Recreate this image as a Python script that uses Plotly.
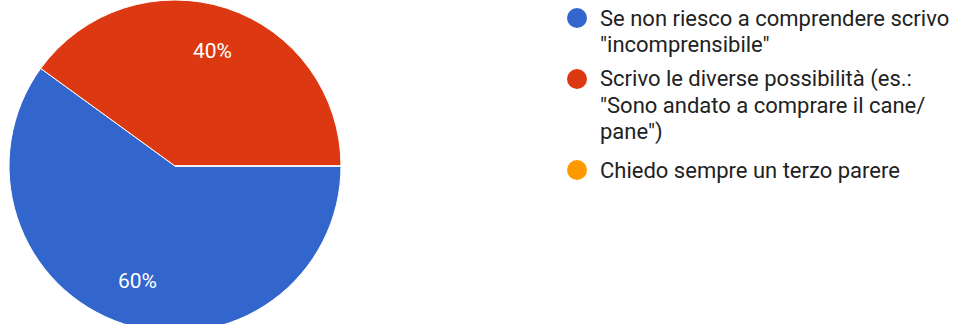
import math
import plotly.graph_objects as go

# Survey answers and their share of responses
labels = [
    'Se non riesco a comprendere scrivo "incomprensibile"',
    'Scrivo le diverse possibilità (es.: "Sono andato a comprare il cane/ pane")',
    'Chiedo sempre un terzo parere',
]
legend_lines = [
    ['Se non riesco a comprendere scrivo', '"incomprensibile"'],
    ['Scrivo le diverse possibilità (es.:', '"Sono andato a comprare il cane/', 'pane")'],
    ['Chiedo sempre un terzo parere'],
]
values = [60, 40, 0]
colors = ['#3366cc', '#dc3912', '#ff9900']

W, H = 958, 332
FONT = 'Roboto, Arial, sans-serif'

# Pie geometry (pixels)
CX, CY, R = 175, 166, 166
ROTATION = 90
LABEL_R = 0.73

fig = go.Figure()
fig.add_trace(go.Pie(
    labels=labels,
    values=values,
    sort=False,
    direction='clockwise',
    rotation=ROTATION,
    marker=dict(colors=colors, line=dict(color='white', width=1)),
    textinfo='none',
    domain=dict(x=[(CX - R) / W, (CX + R) / W], y=[0, 1]),
    showlegend=False,
    hoverinfo='label+percent',
))

# Percentage labels placed along each slice's bisector
total = sum(values)
cum = 0
for v in values:
    if v > 0:
        mid = math.radians(ROTATION + 360 * (cum + v / 2) / total)
        px = CX + LABEL_R * R * math.sin(mid)
        py = CY - LABEL_R * R * math.cos(mid)
        fig.add_annotation(
            xref='paper', yref='paper', x=px / W, y=1 - py / H,
            xanchor='center', yanchor='middle', showarrow=False,
            text=f'{round(100 * v / total)}%',
            font=dict(family=FONT, size=21, color='white'),
        )
    cum += v

# Custom legend: round swatches with wrapped labels
swatch_x = 577
text_x = 598
line_gap = 26.5
item_center = [18, 79, 170]
for lines, col, yc in zip(legend_lines, colors, item_center):
    fig.add_shape(
        type='circle', xref='paper', yref='paper',
        xsizemode='pixel', ysizemode='pixel',
        xanchor=swatch_x / W, yanchor=1 - yc / H,
        x0=-10, x1=10, y0=-10, y1=10,
        fillcolor=col, line=dict(width=0),
    )
    for k, line in enumerate(lines):
        fig.add_annotation(
            xref='paper', yref='paper',
            x=text_x / W, y=1 - (yc + k * line_gap) / H,
            xanchor='left', yanchor='middle', align='left',
            text=line, showarrow=False,
            font=dict(family=FONT, size=22, color='#222222'),
        )

fig.update_layout(
    width=W, height=H,
    margin=dict(l=0, r=0, t=0, b=0),
    paper_bgcolor='white', plot_bgcolor='white',
)

fig.write_html("out.html", post_script="document.body.style.overflow='hidden';")
